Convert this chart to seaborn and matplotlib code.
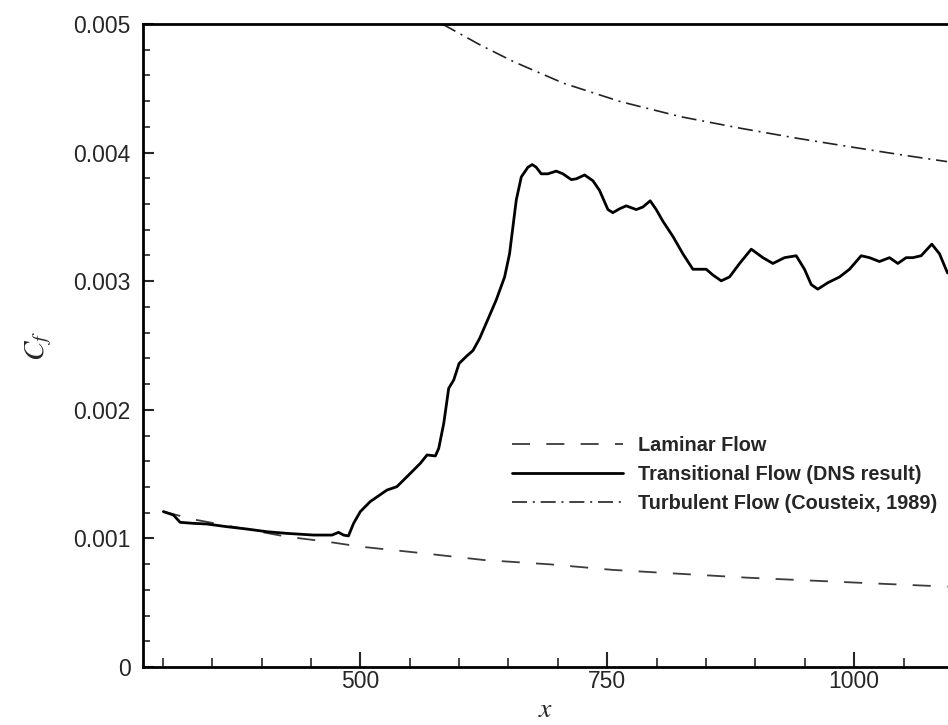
import numpy as np
import pandas as pd
import matplotlib
matplotlib.use("Agg")
import matplotlib.pyplot as plt
import seaborn as sns
from matplotlib.ticker import MultipleLocator, FuncFormatter

# ---------------- data ----------------
lam_x = [300, 331, 425.7, 466, 500, 564, 625, 692.6, 755.7, 890.7, 1025.6, 1094.5]
lam_cf = [0.00121, 0.001148, 0.001013, 0.000975, 0.000936, 0.000884, 0.000832,
          0.000798, 0.000755, 0.000695, 0.000648, 0.000625]

dns_x = [300.7, 310.8, 317.6, 331, 344.6, 364.9, 385, 405.4, 425.7, 452.7, 471.3,
         478, 483, 488, 493.2, 500, 510, 527, 537, 550.7, 560.8, 567.6, 576,
         579.4, 584.5, 589.5, 594.6, 600, 608, 614, 620.8, 630.9, 637.6, 646.1,
         651.1, 654.5, 657.9, 663, 669.7, 674.1, 678.1, 683.2, 689.9, 698.4,
         705.1, 713.6, 718.6, 727.1, 735.5, 742.2, 750.7, 755.7, 762.5, 769.2,
         779.4, 786.1, 793.5, 799.6, 806.3, 816.5, 826.6, 836.7, 843.5, 850.2,
         857, 865.4, 873.8, 884, 895.8, 907.6, 917.7, 929.5, 941.3, 949.7,
         956.5, 963.2, 973.3, 985.2, 995.3, 1007.1, 1015.5, 1025.6, 1035.8,
         1044.2, 1052.6, 1059.4, 1067.8, 1078.6, 1086.4, 1094.5]
dns_cf_e3 = [1.208, 1.182, 1.125, 1.117, 1.112, 1.091, 1.073, 1.052, 1.039, 1.026,
             1.026, 1.047, 1.026, 1.019, 1.117, 1.208, 1.286, 1.376, 1.402, 1.506,
             1.584, 1.649, 1.641, 1.700, 1.895, 2.167, 2.232, 2.36, 2.42, 2.46,
             2.555, 2.734, 2.854, 3.033, 3.213, 3.422, 3.631, 3.811, 3.886,
             3.907, 3.886, 3.835, 3.835, 3.856, 3.835, 3.790, 3.796, 3.826,
             3.781, 3.706, 3.557, 3.533, 3.563, 3.586, 3.557, 3.577, 3.625,
             3.557, 3.467, 3.348, 3.213, 3.093, 3.093, 3.093, 3.048, 3.003,
             3.033, 3.138, 3.249, 3.183, 3.138, 3.183, 3.198, 3.093, 2.974,
             2.938, 2.988, 3.033, 3.093, 3.198, 3.183, 3.153, 3.183, 3.138,
             3.183, 3.183, 3.198, 3.288, 3.213, 3.064]
dns_cf = [v * 1e-3 for v in dns_cf_e3]

turb_x = [583, 621.4, 655.2, 705.9, 763.6, 824.4, 885.2, 942.6, 1000, 1050, 1094]
turb_cf = [0.00500, 0.004837, 0.004707, 0.004539, 0.004396, 0.004279, 0.004189,
           0.004111, 0.004040, 0.003980, 0.003930]

labels = ["Laminar Flow", "Transitional Flow (DNS result)",
          "Turbulent Flow (Cousteix, 1989)"]
x_major = 250
x_minor = 50
y_major = 0.001
y_minor = 0.0002

# ---------------- figure ----------------
sns.set_style("ticks")
plt.rcParams['font.family'] = ['Liberation Sans', 'DejaVu Sans']
plt.rcParams['mathtext.fontset'] = 'stix'

W, H = 948, 725
fig = plt.figure(figsize=(W / 100, H / 100), dpi=100)
ax = fig.add_axes([143 / W, 58 / H, 805 / W, 643 / H])

sns.lineplot(x=lam_x, y=lam_cf, ax=ax, color='#3c3c3c', linewidth=1.3,
             linestyle=(0, (10, 9)), label=labels[0], sort=False)
sns.lineplot(x=dns_x, y=dns_cf, ax=ax, color='black', linewidth=2.0,
             label=labels[1], sort=False)
sns.lineplot(x=turb_x, y=turb_cf, ax=ax, color='#222222', linewidth=1.2,
             linestyle=(0, (9, 3.5, 1.2, 3.5)), label=labels[2], sort=False)

ax.set_xlim(280, 1095)
ax.set_ylim(0, 0.005)

ax.xaxis.set_major_locator(MultipleLocator(x_major))
ax.xaxis.set_minor_locator(MultipleLocator(x_minor))
ax.yaxis.set_major_locator(MultipleLocator(y_major))
ax.yaxis.set_minor_locator(MultipleLocator(y_minor))
ax.yaxis.set_major_formatter(FuncFormatter(lambda v, p: '0' if abs(v) < 1e-12 else f'{v:.3f}'))
ax.xaxis.set_major_formatter(FuncFormatter(lambda v, p: f'{v:.0f}'))

ax.tick_params(axis='x', which='major', direction='in', length=10.8, width=1.5,
               labelsize=16.5, pad=2)
ax.tick_params(axis='x', which='minor', direction='in', length=6.5, width=1.2)
ax.tick_params(axis='y', which='major', direction='in', length=8, width=1.5,
               labelsize=16.5, pad=9)
ax.tick_params(axis='y', which='minor', direction='in', length=5, width=1.2)

for side in ['left', 'bottom', 'top']:
    ax.spines[side].set_linewidth(2.0)
    ax.spines[side].set_color('black')
ax.spines['right'].set_visible(False)

ax.set_xlabel(r'$x$', fontsize=20)
ax.set_ylabel(r'$C_f$', fontsize=21)
ax.xaxis.set_label_coords(0.5, -0.046)
ax.yaxis.set_label_coords(-0.11, 0.5)

ax.legend(loc='upper left', bbox_to_anchor=(512 / W, 1 - 436 / H),
          bbox_transform=fig.transFigure, frameon=False,
          prop={'weight': 'bold', 'size': 14.3, 'family': 'Liberation Sans'},
          handlelength=5.6, handletextpad=0.75, labelspacing=0.5,
          borderpad=0, borderaxespad=0)

fig.savefig('out.png', dpi=100)
